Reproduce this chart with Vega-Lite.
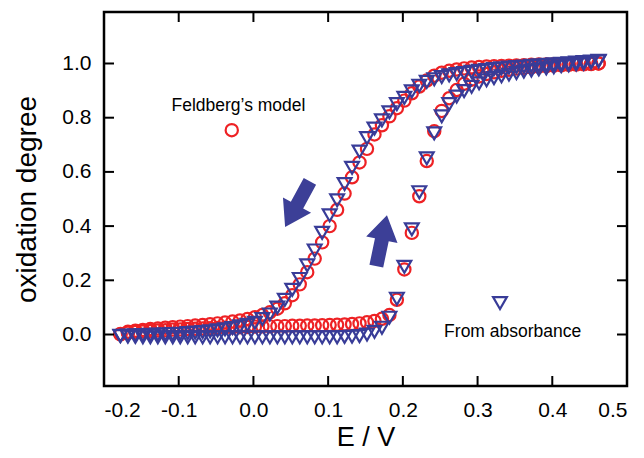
{
  "$schema": "https://vega.github.io/schema/vega-lite/v6.json",
  "width": 523,
  "height": 374,
  "autosize": {"type": "none"},
  "padding": {"left": 104, "top": 12, "right": 17, "bottom": 72},
  "background": "white",
  "config": {
    "view": {"stroke": "black", "strokeWidth": 2.5},
    "axis": {
      "grid": false,
      "domain": false,
      "ticks": false,
      "tickSize": 0,
      "labelFont": "Liberation Sans",
      "labelFontSize": 21,
      "labelColor": "black",
      "titleFont": "Liberation Sans",
      "titleFontWeight": "normal",
      "titleColor": "black"
    }
  },
  "datasets": {
    "model": [
      {"E": -0.178, "y": 0.002, "branch": "reverse"}, {"E": -0.168, "y": 0.010, "branch": "reverse"}, {"E": -0.158, "y": 0.014, "branch": "reverse"}, {"E": -0.148, "y": 0.017, "branch": "reverse"}, {"E": -0.138, "y": 0.020, "branch": "reverse"}, {"E": -0.128, "y": 0.022, "branch": "reverse"}, {"E": -0.118, "y": 0.025, "branch": "reverse"}, {"E": -0.108, "y": 0.027, "branch": "reverse"}, {"E": -0.098, "y": 0.029, "branch": "reverse"}, {"E": -0.088, "y": 0.031, "branch": "reverse"}, {"E": -0.078, "y": 0.033, "branch": "reverse"}, {"E": -0.068, "y": 0.035, "branch": "reverse"}, {"E": -0.058, "y": 0.038, "branch": "reverse"}, {"E": -0.048, "y": 0.041, "branch": "reverse"}, {"E": -0.038, "y": 0.044, "branch": "reverse"}, {"E": -0.028, "y": 0.048, "branch": "reverse"}, {"E": -0.018, "y": 0.052, "branch": "reverse"}, {"E": -0.008, "y": 0.057, "branch": "reverse"},
      {"E": 0.002, "y": 0.064, "branch": "reverse"}, {"E": 0.012, "y": 0.072, "branch": "reverse"}, {"E": 0.022, "y": 0.082, "branch": "reverse"}, {"E": 0.032, "y": 0.095, "branch": "reverse"}, {"E": 0.042, "y": 0.115, "branch": "reverse"}, {"E": 0.052, "y": 0.145, "branch": "reverse"}, {"E": 0.062, "y": 0.185, "branch": "reverse"}, {"E": 0.072, "y": 0.230, "branch": "reverse"}, {"E": 0.082, "y": 0.280, "branch": "reverse"}, {"E": 0.092, "y": 0.340, "branch": "reverse"}, {"E": 0.102, "y": 0.400, "branch": "reverse"}, {"E": 0.112, "y": 0.460, "branch": "reverse"}, {"E": 0.122, "y": 0.520, "branch": "reverse"}, {"E": 0.132, "y": 0.580, "branch": "reverse"}, {"E": 0.142, "y": 0.635, "branch": "reverse"}, {"E": 0.152, "y": 0.685, "branch": "reverse"}, {"E": 0.162, "y": 0.738, "branch": "reverse"}, {"E": 0.172, "y": 0.772, "branch": "reverse"},
      {"E": 0.182, "y": 0.805, "branch": "reverse"}, {"E": 0.192, "y": 0.835, "branch": "reverse"}, {"E": 0.202, "y": 0.863, "branch": "reverse"}, {"E": 0.212, "y": 0.890, "branch": "reverse"}, {"E": 0.222, "y": 0.915, "branch": "reverse"}, {"E": 0.232, "y": 0.937, "branch": "reverse"}, {"E": 0.242, "y": 0.955, "branch": "reverse"}, {"E": 0.252, "y": 0.966, "branch": "reverse"}, {"E": 0.262, "y": 0.973, "branch": "reverse"}, {"E": 0.272, "y": 0.978, "branch": "reverse"}, {"E": 0.282, "y": 0.982, "branch": "reverse"}, {"E": 0.292, "y": 0.985, "branch": "reverse"}, {"E": 0.302, "y": 0.987, "branch": "reverse"}, {"E": 0.312, "y": 0.989, "branch": "reverse"}, {"E": 0.322, "y": 0.990, "branch": "reverse"}, {"E": 0.332, "y": 0.991, "branch": "reverse"}, {"E": 0.342, "y": 0.992, "branch": "reverse"}, {"E": 0.352, "y": 0.993, "branch": "reverse"}, {"E": 0.362, "y": 0.994, "branch": "reverse"}, {"E": 0.372, "y": 0.995, "branch": "reverse"}, {"E": 0.382, "y": 0.996, "branch": "reverse"}, {"E": 0.392, "y": 0.996, "branch": "reverse"}, {"E": 0.402, "y": 0.997, "branch": "reverse"}, {"E": 0.412, "y": 0.997, "branch": "reverse"}, {"E": 0.422, "y": 0.998, "branch": "reverse"}, {"E": 0.432, "y": 0.998, "branch": "reverse"}, {"E": 0.442, "y": 0.999, "branch": "reverse"}, {"E": 0.452, "y": 0.999, "branch": "reverse"}, {"E": 0.462, "y": 1.000, "branch": "reverse"},
      {"E": -0.178, "y": 0.000, "branch": "forward"}, {"E": -0.168, "y": 0.006, "branch": "forward"}, {"E": -0.158, "y": 0.009, "branch": "forward"}, {"E": -0.148, "y": 0.011, "branch": "forward"}, {"E": -0.138, "y": 0.013, "branch": "forward"}, {"E": -0.128, "y": 0.015, "branch": "forward"}, {"E": -0.118, "y": 0.016, "branch": "forward"}, {"E": -0.108, "y": 0.018, "branch": "forward"}, {"E": -0.098, "y": 0.019, "branch": "forward"}, {"E": -0.088, "y": 0.020, "branch": "forward"}, {"E": -0.078, "y": 0.021, "branch": "forward"}, {"E": -0.068, "y": 0.022, "branch": "forward"}, {"E": -0.058, "y": 0.023, "branch": "forward"}, {"E": -0.048, "y": 0.024, "branch": "forward"}, {"E": -0.038, "y": 0.025, "branch": "forward"}, {"E": -0.028, "y": 0.026, "branch": "forward"}, {"E": -0.018, "y": 0.027, "branch": "forward"}, {"E": -0.008, "y": 0.028, "branch": "forward"},
      {"E": 0.002, "y": 0.029, "branch": "forward"}, {"E": 0.012, "y": 0.030, "branch": "forward"}, {"E": 0.022, "y": 0.030, "branch": "forward"}, {"E": 0.032, "y": 0.031, "branch": "forward"}, {"E": 0.042, "y": 0.031, "branch": "forward"}, {"E": 0.052, "y": 0.032, "branch": "forward"}, {"E": 0.062, "y": 0.032, "branch": "forward"}, {"E": 0.072, "y": 0.033, "branch": "forward"}, {"E": 0.082, "y": 0.033, "branch": "forward"}, {"E": 0.092, "y": 0.034, "branch": "forward"}, {"E": 0.102, "y": 0.035, "branch": "forward"}, {"E": 0.112, "y": 0.036, "branch": "forward"}, {"E": 0.122, "y": 0.037, "branch": "forward"}, {"E": 0.132, "y": 0.039, "branch": "forward"}, {"E": 0.142, "y": 0.041, "branch": "forward"}, {"E": 0.152, "y": 0.045, "branch": "forward"}, {"E": 0.162, "y": 0.050, "branch": "forward"}, {"E": 0.172, "y": 0.058, "branch": "forward"},
      {"E": 0.182, "y": 0.072, "branch": "forward"}, {"E": 0.192, "y": 0.128, "branch": "forward"}, {"E": 0.202, "y": 0.240, "branch": "forward"}, {"E": 0.212, "y": 0.375, "branch": "forward"}, {"E": 0.222, "y": 0.510, "branch": "forward"}, {"E": 0.232, "y": 0.640, "branch": "forward"}, {"E": 0.242, "y": 0.750, "branch": "forward"}, {"E": 0.252, "y": 0.825, "branch": "forward"}, {"E": 0.262, "y": 0.872, "branch": "forward"}, {"E": 0.272, "y": 0.902, "branch": "forward"}, {"E": 0.282, "y": 0.925, "branch": "forward"}, {"E": 0.292, "y": 0.940, "branch": "forward"}, {"E": 0.302, "y": 0.952, "branch": "forward"}, {"E": 0.312, "y": 0.961, "branch": "forward"}, {"E": 0.322, "y": 0.968, "branch": "forward"}, {"E": 0.332, "y": 0.973, "branch": "forward"}, {"E": 0.342, "y": 0.977, "branch": "forward"}, {"E": 0.352, "y": 0.981, "branch": "forward"}, {"E": 0.362, "y": 0.984, "branch": "forward"}, {"E": 0.372, "y": 0.986, "branch": "forward"}, {"E": 0.382, "y": 0.988, "branch": "forward"}, {"E": 0.392, "y": 0.990, "branch": "forward"}, {"E": 0.402, "y": 0.992, "branch": "forward"}, {"E": 0.412, "y": 0.993, "branch": "forward"}, {"E": 0.422, "y": 0.995, "branch": "forward"}, {"E": 0.432, "y": 0.996, "branch": "forward"}, {"E": 0.442, "y": 0.997, "branch": "forward"}, {"E": 0.452, "y": 0.998, "branch": "forward"}, {"E": 0.462, "y": 1.000, "branch": "forward"}
    ],
    "absorbance": [
      {"E": -0.178, "y": -0.005, "branch": "reverse"}, {"E": -0.168, "y": -0.004, "branch": "reverse"}, {"E": -0.158, "y": -0.003, "branch": "reverse"}, {"E": -0.148, "y": -0.002, "branch": "reverse"}, {"E": -0.138, "y": -0.001, "branch": "reverse"}, {"E": -0.128, "y": 0.000, "branch": "reverse"}, {"E": -0.118, "y": 0.001, "branch": "reverse"}, {"E": -0.108, "y": 0.002, "branch": "reverse"}, {"E": -0.098, "y": 0.003, "branch": "reverse"}, {"E": -0.088, "y": 0.005, "branch": "reverse"}, {"E": -0.078, "y": 0.007, "branch": "reverse"}, {"E": -0.068, "y": 0.009, "branch": "reverse"}, {"E": -0.058, "y": 0.012, "branch": "reverse"}, {"E": -0.048, "y": 0.015, "branch": "reverse"}, {"E": -0.038, "y": 0.019, "branch": "reverse"}, {"E": -0.028, "y": 0.024, "branch": "reverse"}, {"E": -0.018, "y": 0.030, "branch": "reverse"}, {"E": -0.008, "y": 0.036, "branch": "reverse"},
      {"E": 0.002, "y": 0.043, "branch": "reverse"}, {"E": 0.012, "y": 0.057, "branch": "reverse"}, {"E": 0.022, "y": 0.074, "branch": "reverse"}, {"E": 0.032, "y": 0.099, "branch": "reverse"}, {"E": 0.042, "y": 0.128, "branch": "reverse"}, {"E": 0.052, "y": 0.165, "branch": "reverse"}, {"E": 0.062, "y": 0.205, "branch": "reverse"}, {"E": 0.072, "y": 0.255, "branch": "reverse"}, {"E": 0.082, "y": 0.310, "branch": "reverse"}, {"E": 0.092, "y": 0.375, "branch": "reverse"}, {"E": 0.102, "y": 0.440, "branch": "reverse"}, {"E": 0.112, "y": 0.495, "branch": "reverse"}, {"E": 0.122, "y": 0.555, "branch": "reverse"}, {"E": 0.132, "y": 0.615, "branch": "reverse"}, {"E": 0.142, "y": 0.675, "branch": "reverse"}, {"E": 0.152, "y": 0.725, "branch": "reverse"}, {"E": 0.162, "y": 0.760, "branch": "reverse"}, {"E": 0.172, "y": 0.790, "branch": "reverse"},
      {"E": 0.182, "y": 0.820, "branch": "reverse"}, {"E": 0.192, "y": 0.850, "branch": "reverse"}, {"E": 0.202, "y": 0.873, "branch": "reverse"}, {"E": 0.212, "y": 0.897, "branch": "reverse"}, {"E": 0.222, "y": 0.918, "branch": "reverse"}, {"E": 0.232, "y": 0.932, "branch": "reverse"}, {"E": 0.242, "y": 0.942, "branch": "reverse"}, {"E": 0.252, "y": 0.950, "branch": "reverse"}, {"E": 0.262, "y": 0.956, "branch": "reverse"}, {"E": 0.272, "y": 0.961, "branch": "reverse"}, {"E": 0.282, "y": 0.965, "branch": "reverse"}, {"E": 0.292, "y": 0.969, "branch": "reverse"}, {"E": 0.302, "y": 0.973, "branch": "reverse"}, {"E": 0.312, "y": 0.976, "branch": "reverse"}, {"E": 0.322, "y": 0.979, "branch": "reverse"}, {"E": 0.332, "y": 0.982, "branch": "reverse"}, {"E": 0.342, "y": 0.985, "branch": "reverse"}, {"E": 0.352, "y": 0.987, "branch": "reverse"}, {"E": 0.362, "y": 0.989, "branch": "reverse"}, {"E": 0.372, "y": 0.991, "branch": "reverse"}, {"E": 0.382, "y": 0.993, "branch": "reverse"}, {"E": 0.392, "y": 0.995, "branch": "reverse"}, {"E": 0.402, "y": 0.997, "branch": "reverse"}, {"E": 0.412, "y": 0.999, "branch": "reverse"}, {"E": 0.422, "y": 1.001, "branch": "reverse"}, {"E": 0.432, "y": 1.003, "branch": "reverse"}, {"E": 0.442, "y": 1.005, "branch": "reverse"}, {"E": 0.452, "y": 1.007, "branch": "reverse"}, {"E": 0.462, "y": 1.010, "branch": "reverse"},
      {"E": -0.178, "y": -0.006, "branch": "forward"}, {"E": -0.168, "y": -0.008, "branch": "forward"}, {"E": -0.158, "y": -0.009, "branch": "forward"}, {"E": -0.148, "y": -0.010, "branch": "forward"}, {"E": -0.138, "y": -0.010, "branch": "forward"}, {"E": -0.128, "y": -0.010, "branch": "forward"}, {"E": -0.118, "y": -0.010, "branch": "forward"}, {"E": -0.108, "y": -0.010, "branch": "forward"}, {"E": -0.098, "y": -0.010, "branch": "forward"}, {"E": -0.088, "y": -0.010, "branch": "forward"}, {"E": -0.078, "y": -0.010, "branch": "forward"}, {"E": -0.068, "y": -0.010, "branch": "forward"}, {"E": -0.058, "y": -0.010, "branch": "forward"}, {"E": -0.048, "y": -0.010, "branch": "forward"}, {"E": -0.038, "y": -0.010, "branch": "forward"}, {"E": -0.028, "y": -0.010, "branch": "forward"}, {"E": -0.018, "y": -0.010, "branch": "forward"}, {"E": -0.008, "y": -0.010, "branch": "forward"},
      {"E": 0.002, "y": -0.010, "branch": "forward"}, {"E": 0.012, "y": -0.010, "branch": "forward"}, {"E": 0.022, "y": -0.010, "branch": "forward"}, {"E": 0.032, "y": -0.010, "branch": "forward"}, {"E": 0.042, "y": -0.010, "branch": "forward"}, {"E": 0.052, "y": -0.010, "branch": "forward"}, {"E": 0.062, "y": -0.010, "branch": "forward"}, {"E": 0.072, "y": -0.010, "branch": "forward"}, {"E": 0.082, "y": -0.010, "branch": "forward"}, {"E": 0.092, "y": -0.010, "branch": "forward"}, {"E": 0.102, "y": -0.010, "branch": "forward"}, {"E": 0.112, "y": -0.010, "branch": "forward"}, {"E": 0.122, "y": -0.009, "branch": "forward"}, {"E": 0.132, "y": -0.008, "branch": "forward"}, {"E": 0.142, "y": -0.006, "branch": "forward"}, {"E": 0.152, "y": 0.000, "branch": "forward"}, {"E": 0.162, "y": 0.010, "branch": "forward"}, {"E": 0.172, "y": 0.025, "branch": "forward"},
      {"E": 0.182, "y": 0.062, "branch": "forward"}, {"E": 0.192, "y": 0.132, "branch": "forward"}, {"E": 0.202, "y": 0.250, "branch": "forward"}, {"E": 0.212, "y": 0.388, "branch": "forward"}, {"E": 0.222, "y": 0.525, "branch": "forward"}, {"E": 0.232, "y": 0.650, "branch": "forward"}, {"E": 0.242, "y": 0.742, "branch": "forward"}, {"E": 0.252, "y": 0.805, "branch": "forward"}, {"E": 0.262, "y": 0.850, "branch": "forward"}, {"E": 0.272, "y": 0.878, "branch": "forward"}, {"E": 0.282, "y": 0.898, "branch": "forward"}, {"E": 0.292, "y": 0.914, "branch": "forward"}, {"E": 0.302, "y": 0.927, "branch": "forward"}, {"E": 0.312, "y": 0.938, "branch": "forward"}, {"E": 0.322, "y": 0.946, "branch": "forward"}, {"E": 0.332, "y": 0.953, "branch": "forward"}, {"E": 0.342, "y": 0.959, "branch": "forward"}, {"E": 0.352, "y": 0.965, "branch": "forward"}, {"E": 0.362, "y": 0.970, "branch": "forward"}, {"E": 0.372, "y": 0.974, "branch": "forward"}, {"E": 0.382, "y": 0.978, "branch": "forward"}, {"E": 0.392, "y": 0.982, "branch": "forward"}, {"E": 0.402, "y": 0.986, "branch": "forward"}, {"E": 0.412, "y": 0.990, "branch": "forward"}, {"E": 0.422, "y": 0.993, "branch": "forward"}, {"E": 0.432, "y": 0.996, "branch": "forward"}, {"E": 0.442, "y": 0.999, "branch": "forward"}, {"E": 0.452, "y": 1.003, "branch": "forward"}, {"E": 0.462, "y": 1.008, "branch": "forward"}
    ],
    "keys": [
      {"E": -0.029, "y": 0.754, "series": "model"},
      {"E": 0.330, "y": 0.116, "series": "absorbance"}
    ],
    "labels": [
      {"E": -0.020, "y": 0.843, "text": "Feldberg’s model"},
      {"E": 0.347, "y": 0.008, "text": "From absorbance"}
    ],
    "arrows": [
      {"E": 0.059, "y": 0.481, "scan": "reverse"},
      {"E": 0.1716, "y": 0.346, "scan": "forward"}
    ],
    "xticks": [{"E": -0.1}, {"E": 0.0}, {"E": 0.1}, {"E": 0.2}, {"E": 0.3}, {"E": 0.4}],
    "yticks": [{"y": 0.0}, {"y": 0.2}, {"y": 0.4}, {"y": 0.6}, {"y": 0.8}, {"y": 1.0}]
  },
  "layer": [
    {
      "data": {"name": "model"},
      "mark": {"type": "point", "shape": "circle", "filled": false, "stroke": "#ee2124", "strokeWidth": 2.2, "size": 150, "opacity": 1},
      "encoding": {
        "x": {"field": "E", "type": "quantitative", "scale": {"domain": [-0.2, 0.5], "nice": false, "zero": false},
              "axis": {"orient": "bottom", "values": [-0.2, -0.1, 0, 0.1, 0.2, 0.3, 0.4, 0.5], "format": ".1f", "labelExpr": "replace(datum.label, '\u2212', '-')", "title": "E / V", "titleFontSize": 27, "labelPadding": 13, "titlePadding": 4}},
        "y": {"field": "y", "type": "quantitative", "scale": {"domain": [-0.19, 1.19], "nice": false, "zero": false},
              "axis": {"orient": "left", "values": [0, 0.2, 0.4, 0.6, 0.8, 1.0], "format": ".1f", "title": "oxidation degree", "titleFontSize": 28, "labelPadding": 13, "titlePadding": 20}}
      }
    },
    {
      "data": {"name": "absorbance"},
      "mark": {"type": "point", "shape": "triangle-down", "filled": false, "stroke": "#383c98", "strokeWidth": 2.2, "size": 190, "opacity": 1},
      "encoding": {
        "x": {"field": "E", "type": "quantitative"},
        "y": {"field": "y", "type": "quantitative"}
      }
    },
    {
      "data": {"name": "keys"},
      "transform": [{"filter": "datum.series === 'model'"}],
      "mark": {"type": "point", "shape": "circle", "filled": false, "stroke": "#ee2124", "strokeWidth": 2.2, "size": 150, "opacity": 1},
      "encoding": {
        "x": {"field": "E", "type": "quantitative"},
        "y": {"field": "y", "type": "quantitative"}
      }
    },
    {
      "data": {"name": "keys"},
      "transform": [{"filter": "datum.series === 'absorbance'"}],
      "mark": {"type": "point", "shape": "triangle-down", "filled": false, "stroke": "#383c98", "strokeWidth": 2.2, "size": 190, "opacity": 1},
      "encoding": {
        "x": {"field": "E", "type": "quantitative"},
        "y": {"field": "y", "type": "quantitative"}
      }
    },
    {
      "data": {"name": "labels"},
      "mark": {"type": "text", "font": "Liberation Sans", "fontSize": 17.5, "color": "black", "align": "center", "baseline": "middle"},
      "encoding": {
        "x": {"field": "E", "type": "quantitative"},
        "y": {"field": "y", "type": "quantitative"},
        "text": {"field": "text"}
      }
    },
    {
      "data": {"name": "arrows"},
      "transform": [{"filter": "datum.scan === 'reverse'"}],
      "mark": {"type": "point", "shape": "M0,-1L0.615,-0.04L0.27,-0.04L0.27,1L-0.27,1L-0.27,-0.04L-0.615,-0.04Z", "filled": true, "fill": "#3c3f97", "strokeWidth": 0, "size": 2704, "opacity": 1, "angle": 208.5},
      "encoding": {
        "x": {"field": "E", "type": "quantitative"},
        "y": {"field": "y", "type": "quantitative"}
      }
    },
    {
      "data": {"name": "arrows"},
      "transform": [{"filter": "datum.scan === 'forward'"}],
      "mark": {"type": "point", "shape": "M0,-1L0.615,-0.04L0.27,-0.04L0.27,1L-0.27,1L-0.27,-0.04L-0.615,-0.04Z", "filled": true, "fill": "#3c3f97", "strokeWidth": 0, "size": 2704, "opacity": 1, "angle": 11.8},
      "encoding": {
        "x": {"field": "E", "type": "quantitative"},
        "y": {"field": "y", "type": "quantitative"}
      }
    },
    {
      "data": {"name": "xticks"},
      "mark": {"type": "tick", "orient": "vertical", "color": "black", "size": 10, "thickness": 2, "yOffset": -5, "opacity": 1},
      "encoding": {
        "x": {"field": "E", "type": "quantitative"},
        "y": {"datum": -0.19, "type": "quantitative"}
      }
    },
    {
      "data": {"name": "xticks"},
      "mark": {"type": "tick", "orient": "vertical", "color": "black", "size": 10, "thickness": 2, "yOffset": 5, "opacity": 1},
      "encoding": {
        "x": {"field": "E", "type": "quantitative"},
        "y": {"datum": 1.19, "type": "quantitative"}
      }
    },
    {
      "data": {"name": "yticks"},
      "mark": {"type": "tick", "orient": "horizontal", "color": "black", "size": 10, "thickness": 2, "xOffset": 5, "opacity": 1},
      "encoding": {
        "y": {"field": "y", "type": "quantitative"},
        "x": {"datum": -0.2, "type": "quantitative"}
      }
    },
    {
      "data": {"name": "yticks"},
      "mark": {"type": "tick", "orient": "horizontal", "color": "black", "size": 10, "thickness": 2, "xOffset": -5, "opacity": 1},
      "encoding": {
        "y": {"field": "y", "type": "quantitative"},
        "x": {"datum": 0.5, "type": "quantitative"}
      }
    }
  ]
}
